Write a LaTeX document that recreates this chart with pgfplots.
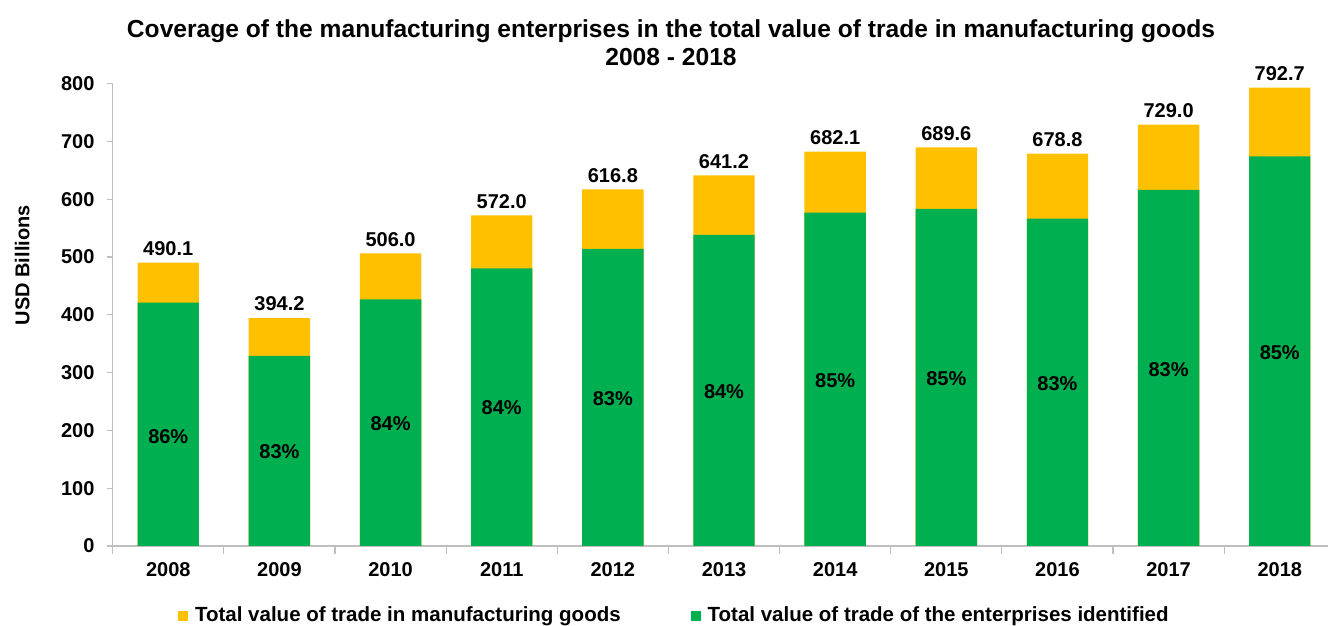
\documentclass[border=0pt]{standalone}
\usepackage{fontspec}
\setmainfont{Liberation Sans}
\usepackage{pgfplots}
\usepackage{pgfplotstable}
\pgfplotsset{compat=1.18}
\definecolor{cyel}{HTML}{FFC000}
\definecolor{cgrn}{HTML}{00B050}
\definecolor{axgrey}{HTML}{BFBFBF}

% x: category index, total: all manufacturing trade, ident: enterprises identified
\pgfplotstableread{
x total ident
0 490.1 421.0
1 394.2 328.7
2 506.0 426.8
3 572.0 480.4
4 616.8 513.8
5 641.2 538.0
6 682.1 576.8
7 689.6 583.0
8 678.8 566.4
9 729.0 616.0
10 792.7 674.0
}\tradedata

% share labels: y = where the label sits, pct = label value
\pgfplotstableread{
x y pct
0 188.6 86
1 162.6 83
2 211.8 84
3 238.8 84
4 255.0 83
5 266.4 84
6 286.7 85
7 289.6 85
8 281.0 83
9 305.7 83
10 334.6 85
}\sharedata

\begin{document}
\begin{tikzpicture}
\useasboundingbox (-56.35pt,-40pt) rectangle (607.65pt,273pt);
\begin{axis}[
    at={(0,0)}, anchor=south west,
    width=607.65pt, height=231.25pt, scale only axis,
    xmin=-0.5, xmax=10.434, ymin=0, ymax=800,
    axis lines*=left,
    axis line style={axgrey, line width=0.6pt},
    tick align=outside,
    xtick={0,...,10},
    xticklabels={2008,2009,2010,2011,2012,2013,2014,2015,2016,2017,2018},
    xtick style={draw=none},
    minor xtick={-0.5,0.5,...,9.5},
    minor x tick style={draw=axgrey, line width=0.6pt},
    minor tick length=4pt,
    major tick length=3pt,
    ytick style={axgrey, line width=0.6pt},
    ytick={0,100,...,800},
    /pgf/number format/assume math mode=true,
    tick label style={font=\bfseries\fontsize{10}{12}\selectfont, black},
    yticklabel style={xshift=-2.6pt},
    xticklabel style={yshift=-1.5pt},
    bar width=30.7pt,
    title={Coverage of the manufacturing enterprises in the total value of trade in manufacturing goods\\2008 - 2018},
    title style={at={(0.4594,1)}, anchor=center, yshift=14.3pt, align=center,
        font=\bfseries\fontsize{12.3}{14}\selectfont},
    ylabel={USD Billions},
    ylabel style={at={(axis description cs:-0.0744,0.607)}, anchor=center,
        font=\bfseries\fontsize{10}{12}\selectfont},
    legend columns=2,
    legend style={at={(0.463,-0.151)}, anchor=center, draw=none,
        font=\bfseries\fontsize{10.25}{12}\selectfont,
        /tikz/every even column/.append style={column sep=33pt}},
    legend cell align=left,
]
\addplot[ybar, bar shift=0pt, fill=cyel, draw=none,
    legend image code/.code={\fill[cyel] (0pt,-2.5pt) rectangle (5pt,2.5pt); \path (0pt,0pt) -- (6.5pt,0pt);},
    nodes near coords={\pgfmathprintnumber[fixed,zerofill,precision=1]{\pgfplotspointmeta}},
    every node near coord/.append style={font=\bfseries\fontsize{10}{12}\selectfont, black}]
    table[x=x, y=total] {\tradedata};
\addlegendentry{Total value of trade in manufacturing goods}
\addplot[ybar, bar shift=0pt, fill=cgrn, draw=none,
    legend image code/.code={\fill[cgrn] (0pt,-2.5pt) rectangle (5pt,2.5pt); \path (0pt,0pt) -- (6.5pt,0pt);}]
    table[x=x, y=ident] {\tradedata};
\addlegendentry{Total value of trade of the enterprises identified}
\addplot[draw=none, mark=none, forget plot, point meta=explicit,
    nodes near coords={\pgfmathprintnumber[fixed,precision=0]{\pgfplotspointmeta}\%},
    every node near coord/.append style={anchor=center, font=\bfseries\fontsize{10}{12}\selectfont, black}]
    table[x=x, y=y, meta=pct] {\sharedata};
\end{axis}
\end{tikzpicture}
\end{document}
